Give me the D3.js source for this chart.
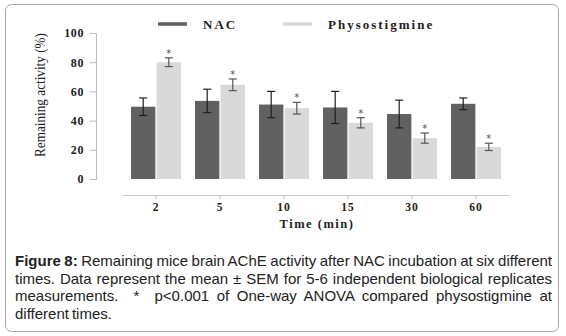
<!DOCTYPE html>
<html>
<head>
<meta charset="utf-8">
<script src="https://cdn.jsdelivr.net/npm/d3@7"></script>
<style>
  body { margin: 0; background: #fff; }
  #wrap { position: relative; width: 566px; height: 336px; }
  svg { position: absolute; left: 0; top: 0; }
  .cap { position: absolute; left: 15px; top: 252px; width: 537px;
         font-family: "Liberation Sans", Arial, sans-serif; font-size: 15px;
         word-spacing: -1.2px; line-height: 17.5px; color: #222; }
  .cap div { text-align: justify; text-align-last: justify; white-space: nowrap; }
  .cap div.last { text-align-last: left; }
</style>
</head>
<body>
<div id="wrap">
  <div class="cap" id="caption"></div>
</div>
<script>
// Data
const times = ["2", "5", "10", "15", "30", "60"];
const series = ["NAC", "Physostigmine"];
const nacMean = [49.5, 53.5, 51, 49, 44.5, 51.5];
const nacErr = [6, 8, 9, 11, 9.5, 4];
const physoMean = [80, 64.5, 48.5, 38.5, 28, 22];
const physoErr = [3, 4, 4, 3.5, 3.5, 2.5];
const yTicks = [0, 20, 40, 60, 80, 100];
const captionLines = [
  "<b>Figure 8:</b> Remaining mice brain AChE activity after NAC incubation at six different",
  "times. Data represent the mean ± SEM for 5-6 independent biological replicates",
  "measurements. &nbsp;* &nbsp;p&lt;0.001 of One-way ANOVA compared physostigmine at",
  "different times."
];

const colors = {NAC: "#616161", Physostigmine: "#d9d9d9"};
const errColors = {NAC: "#1e1e1e", Physostigmine: "#555"};

const svg = d3.select("#wrap").insert("svg", "#caption")
    .attr("width", 566)
    .attr("height", 336);

// Frame
svg.append("rect")
    .attr("x", 5.5).attr("y", 4.5)
    .attr("width", 553).attr("height", 327)
    .attr("rx", 6)
    .attr("fill", "none")
    .attr("stroke", "#a8a8a8");

// Scales
const y = d3.scaleLinear().domain([0, 100]).range([179, 33]);

const x0 = d3.scaleBand()
    .domain(times)
    .range([124, 508])
    .paddingInner(0.22)
    .paddingOuter(0.11);

const x1 = d3.scaleBand()
    .domain(series)
    .range([0, x0.bandwidth()])
    .paddingInner(0.05);

const serif = "'Liberation Serif', 'Times New Roman', serif";

// Y axis
const yAxis = svg.append("g")
    .attr("transform", "translate(96,0)")
    .call(d3.axisLeft(y).tickValues(yTicks).tickSize(6).tickPadding(6));
yAxis.select(".domain").attr("stroke", "#bbb");
yAxis.selectAll(".tick line").attr("stroke", "#bbb");
yAxis.selectAll(".tick text")
    .style("font-family", serif)
    .style("font-size", "12px")
    .style("font-weight", "bold")
    .style("letter-spacing", "0.6px")
    .attr("fill", "#222");

// X axis (separate line under the plot)
const xAxis = svg.append("g")
    .attr("transform", "translate(0,195)")
    .call(d3.axisBottom(x0).tickSize(4).tickSizeOuter(0).tickPadding(4));
xAxis.select(".domain").attr("stroke", "#c8c8c8").attr("d", "M123,0.5H510");
xAxis.selectAll(".tick line").attr("stroke", "#bbb");
xAxis.selectAll(".tick text")
    .style("font-family", serif)
    .style("font-size", "11.5px")
    .style("font-weight", "bold")
    .style("letter-spacing", "1px")
    .attr("fill", "#222");

// Axis titles
svg.append("text")
    .attr("transform", "translate(45,95) rotate(-90)")
    .attr("text-anchor", "middle")
    .attr("textLength", 124)
    .attr("lengthAdjust", "spacingAndGlyphs")
    .style("font-family", serif)
    .style("font-size", "15px")
    .attr("fill", "#222")
    .text("Remaining activity (%)");

svg.append("text")
    .attr("x", 317)
    .attr("y", 228)
    .attr("text-anchor", "middle")
    .style("font-family", serif)
    .style("font-size", "12.5px")
    .style("font-weight", "bold")
    .style("letter-spacing", "1.5px")
    .attr("fill", "#222")
    .text("Time (min)");

// Bars
const rows = times.map((t, i) => ({
  time: t,
  values: [
    {key: "NAC", mean: nacMean[i], err: nacErr[i], star: false},
    {key: "Physostigmine", mean: physoMean[i], err: physoErr[i], star: true}
  ]
}));

const groups = svg.selectAll(".grp")
    .data(rows)
  .enter().append("g")
    .attr("class", "grp")
    .attr("transform", d => `translate(${x0(d.time)},0)`);

const cells = groups.selectAll(".cell")
    .data(d => d.values)
  .enter().append("g")
    .attr("class", "cell");

cells.append("rect")
    .attr("x", d => x1(d.key))
    .attr("y", d => y(d.mean))
    .attr("width", x1.bandwidth())
    .attr("height", d => y(0) - y(d.mean))
    .attr("fill", d => colors[d.key]);

// Error bars
const cx = d => x1(d.key) + x1.bandwidth() / 2;
cells.append("line")
    .attr("x1", cx).attr("x2", cx)
    .attr("y1", d => y(d.mean + d.err))
    .attr("y2", d => y(d.mean - d.err))
    .attr("stroke", d => errColors[d.key])
    .attr("stroke-width", 1.2);
cells.append("line")
    .attr("x1", d => cx(d) - 4).attr("x2", d => cx(d) + 4)
    .attr("y1", d => y(d.mean + d.err)).attr("y2", d => y(d.mean + d.err))
    .attr("stroke", d => errColors[d.key])
    .attr("stroke-width", 1.2);
cells.append("line")
    .attr("x1", d => cx(d) - 4).attr("x2", d => cx(d) + 4)
    .attr("y1", d => y(d.mean - d.err)).attr("y2", d => y(d.mean - d.err))
    .attr("stroke", d => errColors[d.key])
    .attr("stroke-width", 1.2);

// Significance stars
cells.filter(d => d.star).append("text")
    .attr("x", cx)
    .attr("y", d => y(d.mean + d.err) - 1)
    .attr("text-anchor", "middle")
    .style("font-family", "'DejaVu Sans', sans-serif")
    .style("font-size", "10px")
    .attr("fill", "#555")
    .text("*");

// Legend
const legendPos = [{sx: 158, tx: 203}, {sx: 283, tx: 328}];
series.forEach(function(s, i) {
  svg.append("line")
      .attr("x1", legendPos[i].sx).attr("x2", legendPos[i].sx + 29)
      .attr("y1", 24).attr("y2", 24)
      .attr("stroke", colors[s])
      .attr("stroke-width", 3.5);
  svg.append("text")
      .attr("x", legendPos[i].tx)
      .attr("y", 28.5)
      .style("font-family", serif)
      .style("font-size", "13px")
      .style("font-weight", "bold")
      .style("letter-spacing", "2px")
      .attr("fill", "#222")
      .text(s);
});

// Caption
d3.select("#caption").selectAll("div")
    .data(captionLines)
  .enter().append("div")
    .attr("class", (d, i) => i === captionLines.length - 1 ? "last" : null)
    .html(d => d);
</script>
</body>
</html>
